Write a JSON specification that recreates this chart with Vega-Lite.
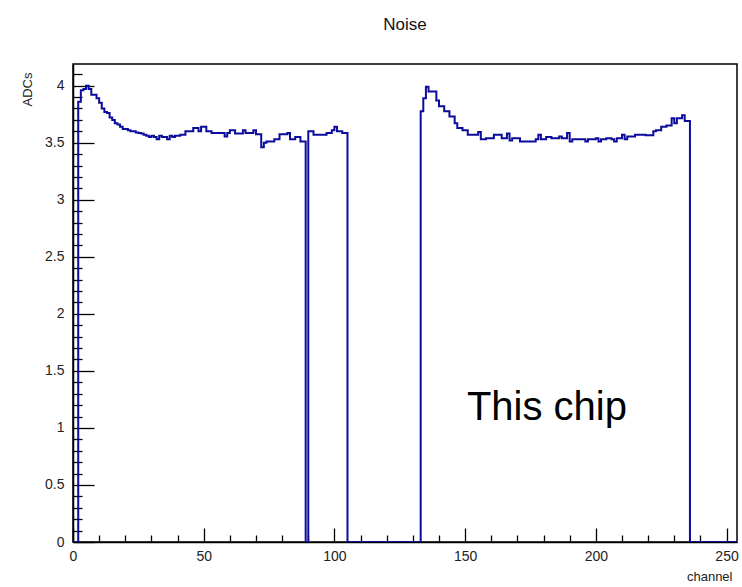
{
  "$schema": "https://vega.github.io/schema/vega-lite/v6.json",
  "autosize": "none",
  "width": 664,
  "height": 478,
  "padding": {"left": 73, "top": 64, "right": 5, "bottom": 45},
  "background": "white",
  "title": {"text": "Noise", "anchor": "middle", "frame": "group", "font": "Liberation Sans", "fontSize": 17, "fontWeight": "normal", "color": "#111", "offset": 30},
  "config": {
    "view": {"stroke": "black", "strokeWidth": 1.5},
    "axis": {"grid": false, "domainColor": "black", "domainWidth": 1.5, "tickColor": "black", "tickWidth": 1.3, "labelFont": "Liberation Sans", "labelFontSize": 14, "labelColor": "#222", "titleFont": "Liberation Sans", "titleFontSize": 13, "titleFontWeight": "normal", "titleColor": "#222", "zindex": 1}
  },
  "datasets": {
    "hist": [
      {"ch":0,"v":0},{"ch":1,"v":0},{"ch":2,"v":3.86},{"ch":3,"v":3.96},{"ch":4,"v":3.97},{"ch":5,"v":4.0},{"ch":6,"v":3.97},{"ch":7,"v":3.92},{"ch":8,"v":3.92},{"ch":9,"v":3.89},
      {"ch":10,"v":3.85},{"ch":11,"v":3.8},{"ch":12,"v":3.77},{"ch":13,"v":3.76},{"ch":14,"v":3.72},{"ch":15,"v":3.7},{"ch":16,"v":3.67},{"ch":17,"v":3.66},{"ch":18,"v":3.64},{"ch":19,"v":3.62},
      {"ch":20,"v":3.62},{"ch":21,"v":3.61},{"ch":22,"v":3.6},{"ch":23,"v":3.6},{"ch":24,"v":3.59},{"ch":25,"v":3.585},{"ch":26,"v":3.58},{"ch":27,"v":3.57},{"ch":28,"v":3.56},{"ch":29,"v":3.55},
      {"ch":30,"v":3.56},{"ch":31,"v":3.55},{"ch":32,"v":3.53},{"ch":33,"v":3.56},{"ch":34,"v":3.55},{"ch":35,"v":3.55},{"ch":36,"v":3.53},{"ch":37,"v":3.56},{"ch":38,"v":3.55},{"ch":39,"v":3.56},
      {"ch":40,"v":3.56},{"ch":41,"v":3.57},{"ch":42,"v":3.57},{"ch":43,"v":3.6},{"ch":44,"v":3.6},{"ch":45,"v":3.6},{"ch":46,"v":3.63},{"ch":47,"v":3.63},{"ch":48,"v":3.6},{"ch":49,"v":3.64},
      {"ch":50,"v":3.64},{"ch":51,"v":3.6},{"ch":52,"v":3.6},{"ch":53,"v":3.585},{"ch":54,"v":3.585},{"ch":55,"v":3.585},{"ch":56,"v":3.585},{"ch":57,"v":3.585},{"ch":58,"v":3.555},{"ch":59,"v":3.585},
      {"ch":60,"v":3.61},{"ch":61,"v":3.61},{"ch":62,"v":3.58},{"ch":63,"v":3.58},{"ch":64,"v":3.58},{"ch":65,"v":3.61},{"ch":66,"v":3.585},{"ch":67,"v":3.585},{"ch":68,"v":3.585},{"ch":69,"v":3.61},
      {"ch":70,"v":3.575},{"ch":71,"v":3.575},{"ch":72,"v":3.46},{"ch":73,"v":3.5},{"ch":74,"v":3.51},{"ch":75,"v":3.51},{"ch":76,"v":3.51},{"ch":77,"v":3.53},{"ch":78,"v":3.53},{"ch":79,"v":3.575},
      {"ch":80,"v":3.575},{"ch":81,"v":3.575},{"ch":82,"v":3.585},{"ch":83,"v":3.53},{"ch":84,"v":3.53},{"ch":85,"v":3.55},{"ch":86,"v":3.55},{"ch":87,"v":3.51},{"ch":88,"v":3.51},{"ch":89,"v":0},
      {"ch":90,"v":3.6},{"ch":91,"v":3.6},{"ch":92,"v":3.57},{"ch":93,"v":3.57},{"ch":94,"v":3.57},{"ch":95,"v":3.57},{"ch":96,"v":3.57},{"ch":97,"v":3.585},{"ch":98,"v":3.585},{"ch":99,"v":3.61},
      {"ch":100,"v":3.64},{"ch":101,"v":3.6},{"ch":102,"v":3.6},{"ch":103,"v":3.585},{"ch":104,"v":3.585},{"ch":105,"v":0},{"ch":106,"v":0},{"ch":107,"v":0},{"ch":108,"v":0},{"ch":109,"v":0},
      {"ch":110,"v":0},{"ch":111,"v":0},{"ch":112,"v":0},{"ch":113,"v":0},{"ch":114,"v":0},{"ch":115,"v":0},{"ch":116,"v":0},{"ch":117,"v":0},{"ch":118,"v":0},{"ch":119,"v":0},
      {"ch":120,"v":0},{"ch":121,"v":0},{"ch":122,"v":0},{"ch":123,"v":0},{"ch":124,"v":0},{"ch":125,"v":0},{"ch":126,"v":0},{"ch":127,"v":0},{"ch":128,"v":0},{"ch":129,"v":0},
      {"ch":130,"v":0},{"ch":131,"v":0},{"ch":132,"v":0},{"ch":133,"v":3.775},{"ch":134,"v":3.89},{"ch":135,"v":3.99},{"ch":136,"v":3.95},{"ch":137,"v":3.95},{"ch":138,"v":3.95},{"ch":139,"v":3.87},
      {"ch":140,"v":3.82},{"ch":141,"v":3.82},{"ch":142,"v":3.775},{"ch":143,"v":3.775},{"ch":144,"v":3.73},{"ch":145,"v":3.73},{"ch":146,"v":3.67},{"ch":147,"v":3.63},{"ch":148,"v":3.63},{"ch":149,"v":3.61},
      {"ch":150,"v":3.61},{"ch":151,"v":3.57},{"ch":152,"v":3.57},{"ch":153,"v":3.57},{"ch":154,"v":3.57},{"ch":155,"v":3.595},{"ch":156,"v":3.53},{"ch":157,"v":3.53},{"ch":158,"v":3.54},{"ch":159,"v":3.54},
      {"ch":160,"v":3.54},{"ch":161,"v":3.57},{"ch":162,"v":3.57},{"ch":163,"v":3.57},{"ch":164,"v":3.54},{"ch":165,"v":3.54},{"ch":166,"v":3.58},{"ch":167,"v":3.52},{"ch":168,"v":3.54},{"ch":169,"v":3.54},
      {"ch":170,"v":3.54},{"ch":171,"v":3.51},{"ch":172,"v":3.51},{"ch":173,"v":3.51},{"ch":174,"v":3.51},{"ch":175,"v":3.51},{"ch":176,"v":3.51},{"ch":177,"v":3.53},{"ch":178,"v":3.57},{"ch":179,"v":3.53},
      {"ch":180,"v":3.53},{"ch":181,"v":3.55},{"ch":182,"v":3.55},{"ch":183,"v":3.54},{"ch":184,"v":3.54},{"ch":185,"v":3.54},{"ch":186,"v":3.555},{"ch":187,"v":3.54},{"ch":188,"v":3.54},{"ch":189,"v":3.585},
      {"ch":190,"v":3.51},{"ch":191,"v":3.53},{"ch":192,"v":3.53},{"ch":193,"v":3.53},{"ch":194,"v":3.53},{"ch":195,"v":3.53},{"ch":196,"v":3.51},{"ch":197,"v":3.53},{"ch":198,"v":3.53},{"ch":199,"v":3.53},
      {"ch":200,"v":3.54},{"ch":201,"v":3.51},{"ch":202,"v":3.53},{"ch":203,"v":3.53},{"ch":204,"v":3.54},{"ch":205,"v":3.54},{"ch":206,"v":3.53},{"ch":207,"v":3.51},{"ch":208,"v":3.54},{"ch":209,"v":3.54},
      {"ch":210,"v":3.57},{"ch":211,"v":3.53},{"ch":212,"v":3.555},{"ch":213,"v":3.555},{"ch":214,"v":3.555},{"ch":215,"v":3.57},{"ch":216,"v":3.57},{"ch":217,"v":3.57},{"ch":218,"v":3.57},{"ch":219,"v":3.565},
      {"ch":220,"v":3.565},{"ch":221,"v":3.565},{"ch":222,"v":3.6},{"ch":223,"v":3.61},{"ch":224,"v":3.61},{"ch":225,"v":3.64},{"ch":226,"v":3.64},{"ch":227,"v":3.65},{"ch":228,"v":3.65},{"ch":229,"v":3.715},
      {"ch":230,"v":3.67},{"ch":231,"v":3.715},{"ch":232,"v":3.715},{"ch":233,"v":3.74},{"ch":234,"v":3.69},{"ch":235,"v":3.69},{"ch":236,"v":0},{"ch":237,"v":0},{"ch":238,"v":0},{"ch":239,"v":0},
      {"ch":240,"v":0},{"ch":241,"v":0},{"ch":242,"v":0},{"ch":243,"v":0},{"ch":244,"v":0},{"ch":245,"v":0},{"ch":246,"v":0},{"ch":247,"v":0},{"ch":248,"v":0},{"ch":249,"v":0},
      {"ch":250,"v":0},{"ch":251,"v":0},{"ch":252,"v":0},{"ch":253,"v":0},{"ch":254,"v":0}
    ],
    "note": [{"ch": 181.3, "v": 1.07, "label": "This chip"}]
  },
  "layer": [
    {
      "data": {"name": "hist"},
      "mark": {"type": "line", "interpolate": "step-after", "color": "#0b0b9c", "strokeWidth": 2, "clip": true},
      "encoding": {
        "x": {"field": "ch", "type": "quantitative", "scale": {"domain": [0, 254], "nice": false, "zero": false},
          "axis": {"title": "channel", "tickCount": 200, "values": [0,10,20,30,40,50,60,70,80,90,100,110,120,130,140,150,160,170,180,190,200,210,220,230,240,250],
            "tickSize": {"condition": {"test": "datum.value % 50 === 0", "value": -14}, "value": -7},
            "labelExpr": "datum.value % 50 === 0 ? format(datum.value, 'd') : ''",
            "labelPadding": 21, "labelFlush": false, "labelOverlap": false,
            "titleAnchor": "end", "titleAlign": "right", "titleX": 659, "titleY": 38, "titleBaseline": "alphabetic"}},
        "y": {"field": "v", "type": "quantitative", "scale": {"domain": [0, 4.19], "nice": false},
          "axis": {"title": "ADCs", "tickCount": 200, "values": [0,0.1,0.2,0.3,0.4,0.5,0.6,0.7,0.8,0.9,1,1.1,1.2,1.3,1.4,1.5,1.6,1.7,1.8,1.9,2,2.1,2.2,2.3,2.4,2.5,2.6,2.7,2.8,2.9,3,3.1,3.2,3.3,3.4,3.5,3.6,3.7,3.8,3.9,4,4.1],
            "tickSize": {"condition": {"test": "abs(datum.value*2 - round(datum.value*2)) < 0.001", "value": -21}, "value": -9},
            "labelExpr": "abs(datum.value*2 - round(datum.value*2)) < 0.001 ? format(datum.value, '~g') : ''",
            "labelPadding": 30, "labelFlush": false, "labelOverlap": false,
            "titleAnchor": "end", "titleAlign": "right", "titleAngle": -90, "titleX": -46, "titleY": 8, "titleBaseline": "middle"}}
      }
    },
    {
      "data": {"name": "note"},
      "mark": {"type": "text", "font": "Liberation Sans", "fontSize": 40, "color": "black", "align": "center", "baseline": "alphabetic"},
      "encoding": {
        "x": {"field": "ch", "type": "quantitative"},
        "y": {"field": "v", "type": "quantitative"},
        "text": {"field": "label"}
      }
    }
  ]
}
